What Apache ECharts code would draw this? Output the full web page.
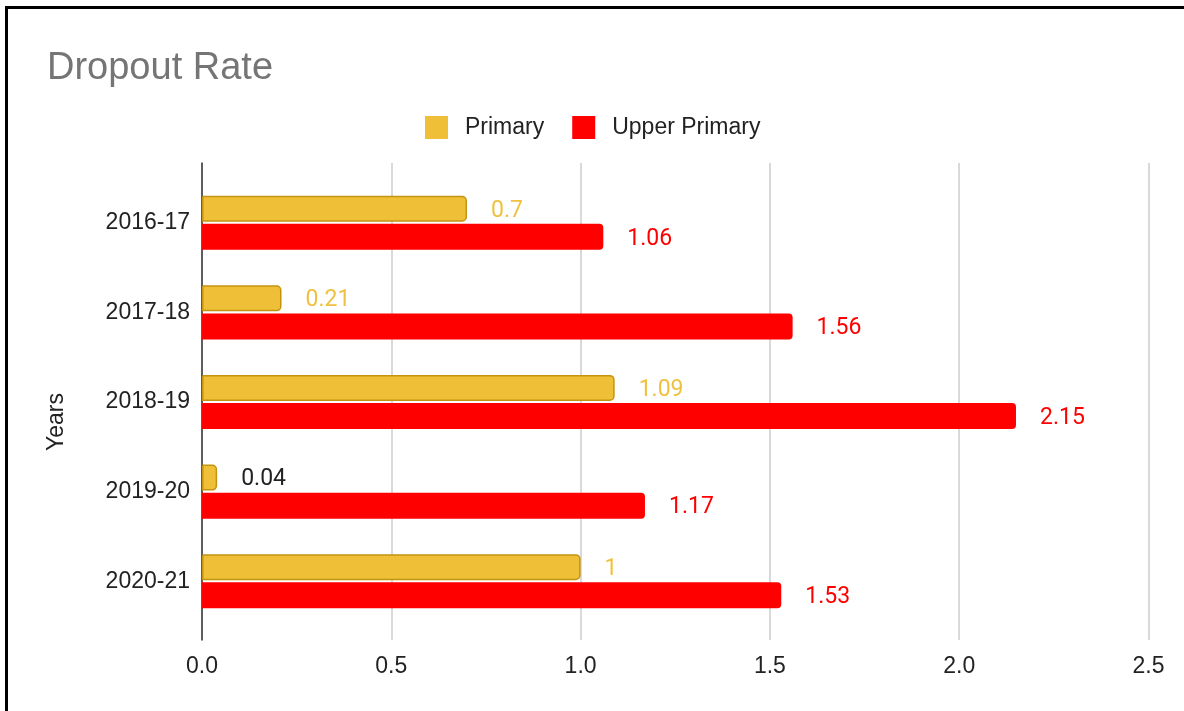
<!DOCTYPE html>
<html>
<head>
<meta charset="utf-8">
<script src="https://cdn.jsdelivr.net/npm/echarts@6/dist/echarts.min.js"></script>
<style>
html,body{margin:0;padding:0;background:#fff;}
#chart{width:1184px;height:711px;}
</style>
</head>
<body>
<div id="chart"></div>
<script>
const categories = ['2016-17', '2017-18', '2018-19', '2019-20', '2020-21'];
const primary = [0.7, 0.21, 1.09, 0.04, 1];
const upperPrimary = [1.06, 1.56, 2.15, 1.17, 1.53];
const xTicks = [0, 0.5, 1.0, 1.5, 2.0, 2.5];

const chart = echarts.init(document.getElementById('chart'), null, {renderer: 'canvas'});
const labelFont = 'Roboto, "Liberation Sans", Arial, sans-serif';
const axisFont = '"Liberation Sans", Arial, sans-serif';
const YELLOW = '#efbf38';
const RED = '#ff0000';
const FS = 23;

const primaryData = primary.map((v, i) => ({
  value: v,
  label: { color: i === 3 ? '#222222' : '#f0c141' }
}));

chart.setOption({
  animation: false,
  backgroundColor: '#ffffff',
  title: {
    text: 'Dropout Rate',
    left: 42, top: 45,
    textStyle: { color: '#757575', fontSize: 38, fontWeight: 'normal', fontFamily: axisFont }
  },
  legend: {
    left: 420, top: 111,
    itemWidth: 23, itemHeight: 23, itemGap: 28,
    icon: 'rect',
    itemStyle: { borderWidth: 0 },
    textStyle: { fontSize: FS, color: '#222', fontFamily: axisFont, padding: [0, 0, 0, 12] },
    data: ['Primary', 'Upper Primary']
  },
  graphic: [
    { type: 'rect', shape: { x: 6.5, y: 7.5, width: 1250, height: 800 }, style: { fill: 'none', stroke: '#000', lineWidth: 3 }, z: 100 },
    { type: 'text', x: 57, y: 422, rotation: Math.PI / 2,
      style: { text: 'Years', font: FS + 'px "Liberation Sans", Arial, sans-serif', fill: '#222', align: 'center', verticalAlign: 'middle' } }
  ],
  grid: [
    { left: 202, top: 163, width: 946.5, height: 477, containLabel: false },
    { left: 202, top: 178, width: 946.5, height: 448, containLabel: false }
  ],
  xAxis: [
    { gridIndex: 0, type: 'value', min: 0, max: 2.5, interval: 0.5,
      axisLine: { show: false }, axisTick: { show: false },
      splitLine: { show: true, lineStyle: { color: '#cccccc', width: 1.5 } },
      axisLabel: { fontSize: FS, color: '#222', fontFamily: axisFont, margin: 15,
        formatter: v => v.toFixed(1) } },
    { gridIndex: 1, type: 'value', min: 0, max: 2.5, interval: 0.5, show: false }
  ],
  yAxis: [
    { gridIndex: 0, type: 'category', data: categories, inverse: true,
      axisLine: { show: true, lineStyle: { color: '#333', width: 1.5 } },
      axisTick: { show: false }, axisLabel: { show: false }, splitLine: { show: false } },
    { gridIndex: 1, type: 'category', data: categories, inverse: true,
      axisLine: { show: false }, axisTick: { show: false },
      axisLabel: { fontSize: FS, color: '#222', fontFamily: axisFont, margin: 12 } }
  ],
  series: [
    { name: 'Primary', type: 'bar', xAxisIndex: 1, yAxisIndex: 1, data: primaryData,
      barWidth: 26, barGap: '8%',
      itemStyle: { color: YELLOW, borderColor: '#c4930f', borderWidth: 1.5, borderRadius: [0, 4, 4, 0] },
      label: { show: true, position: 'right', distance: 24, offset: [0, 2], fontSize: FS, fontFamily: labelFont } },
    { name: 'Upper Primary', type: 'bar', xAxisIndex: 1, yAxisIndex: 1, data: upperPrimary,
      barWidth: 26,
      itemStyle: { color: RED, borderRadius: [0, 4, 4, 0] },
      label: { show: true, position: 'right', distance: 24, offset: [0, 2], fontSize: FS, color: RED, fontFamily: labelFont } }
  ]
});
</script>
</body>
</html>
